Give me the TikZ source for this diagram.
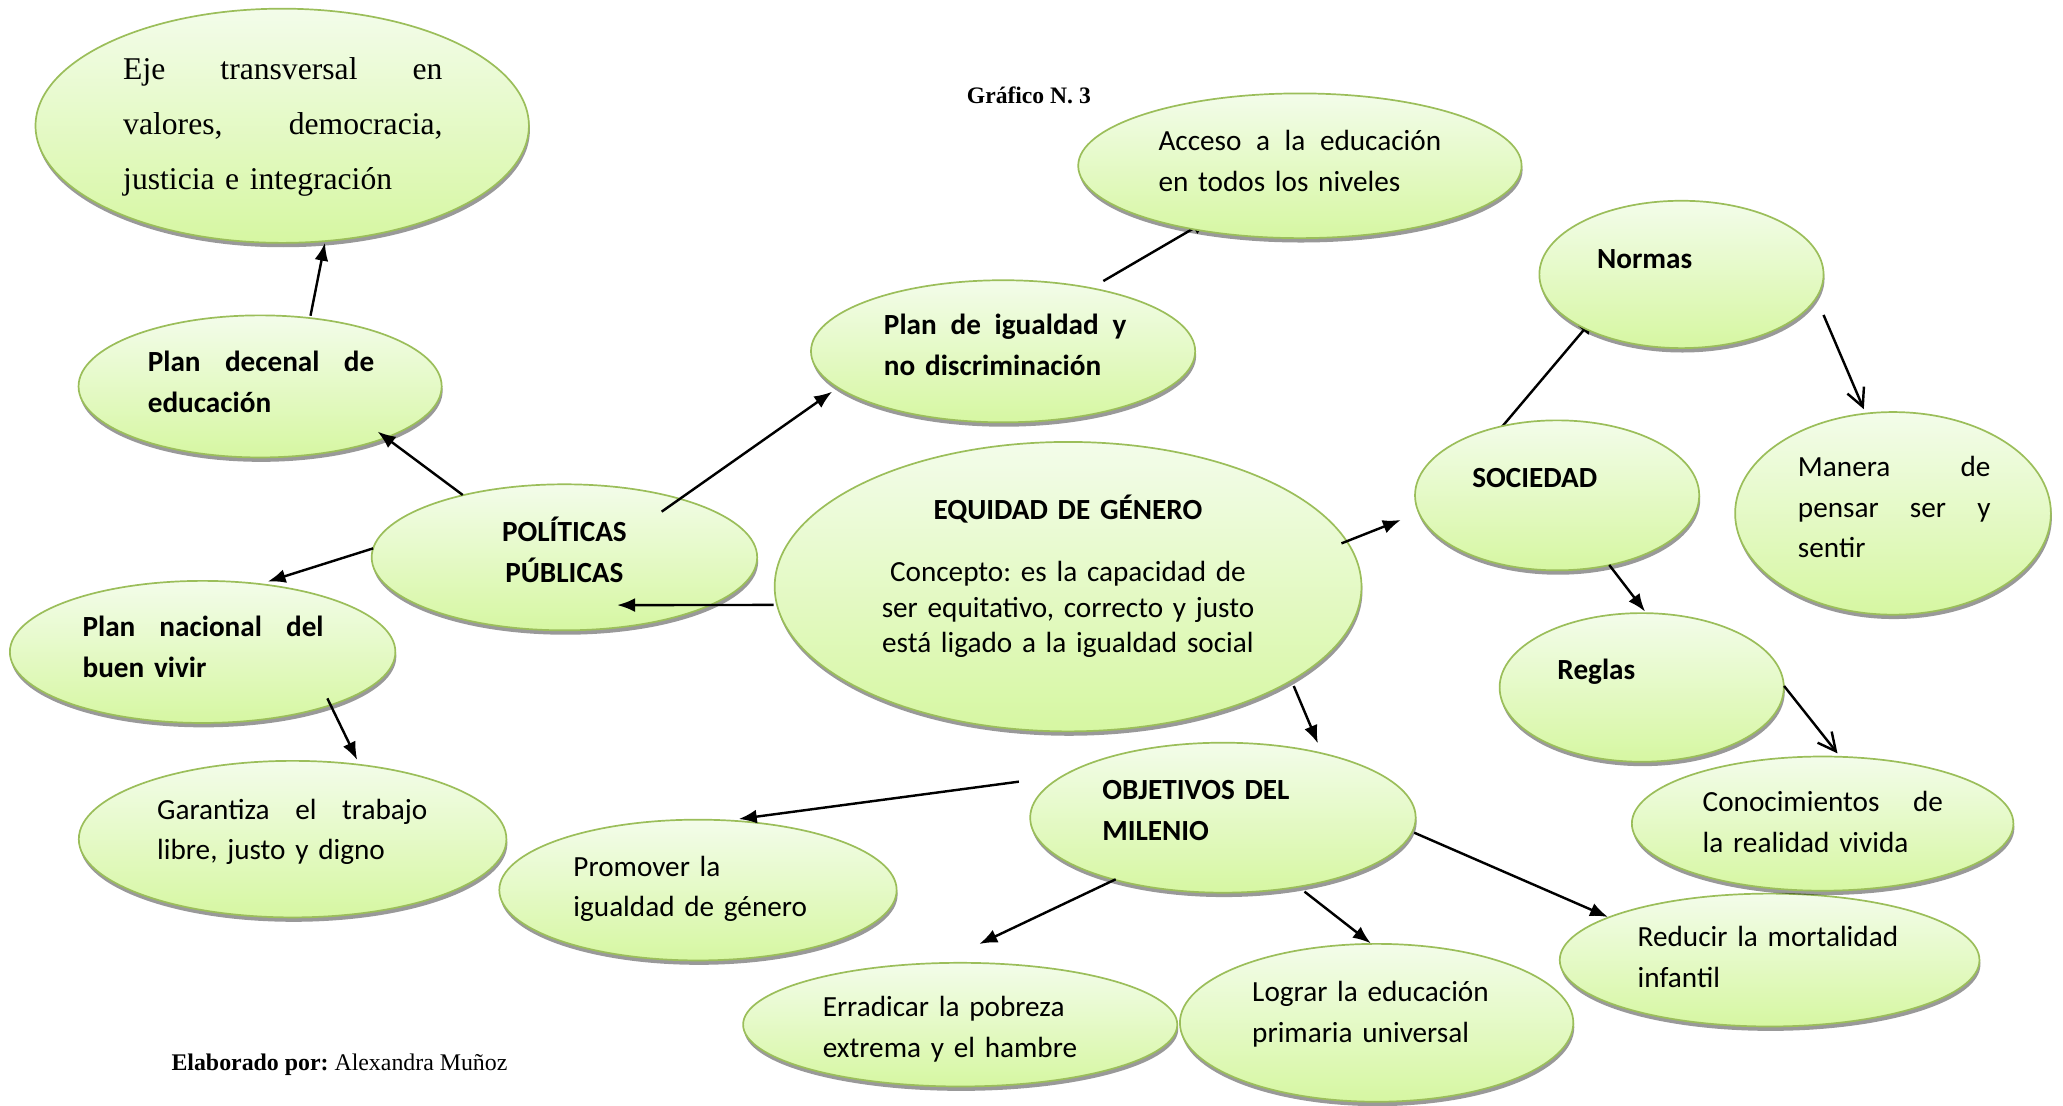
\documentclass[tikz,border=0pt]{standalone}
\usepackage{fontspec}
\setmainfont{Carlito}
\newfontfamily\timesfont{Liberation Serif}
\usetikzlibrary{positioning, shapes.geometric, shadows, arrows.meta, backgrounds}
\frenchspacing

\definecolor{verdeborde}{RGB}{155,190,90}
\definecolor{verdearriba}{RGB}{243,252,234}
\definecolor{verdeabajo}{RGB}{214,247,162}

% Justified line of text: width, words
\newcommand{\jline}[2]{\makebox[#1][s]{#2}}

\begin{document}
\begin{tikzpicture}[
    x=0.019cm, y=-0.019cm, % page units
    >=LaTeX,
    % Styles
    burbuja/.style={ % Ellipse of the map
        ellipse,
        draw=verdeborde,
        line width=0.7pt,
        top color=verdearriba,
        bottom color=verdeabajo,
        drop shadow={shadow xshift=0.4pt, shadow yshift=-1.8pt, fill=black, opacity=0.4},
        inner sep=0pt
    },
    texto/.style={ % Text inside an ellipse
        anchor=base west,
        inner sep=0pt,
        align=left,
        font=\fontsize{12}{16.7}\selectfont
    },
    negrita/.style={ % Bold text
        texto,
        font=\fontsize{12}{16.7}\selectfont\bfseries
    },
    flecha/.style={
        -{Latex[length=2.6mm, width=2mm]},
        line width=1pt
    },
    flechab/.style={ % Open arrow head
        -{Straight Barb[length=2.6mm, width=2.6mm]},
        line width=1pt
    }
]

    \useasboundingbox (0,0) rectangle (1568,840);

    % Ellipses
    \foreach \n/\x/\y/\w/\h in {eje/214.5/95.6/375/178, decenal/197.7/293.7/276/108,
        politicas/429/423.6/293/111, igualdad/762.4/267/292/108,
        acceso/988/126/337/110, equidad/811.8/445.9/446/220,
        nacional/154/495.5/293/108, garantiza/222.4/637.8/325/119,
        promover/530.5/676.5/302/107, objetivos/929.5/621.5/293/114,
        erradicar/729.8/778.8/330/94, lograr/1046.3/777.4/299/120,
        reducir/1345/729.7/319/101, sociedad/1183.5/376.5/216/114,
        normas/1278/208.6/216/112, manera/1438.8/390.2/240/154,
        reglas/1247.8/522.5/216/113, conocimientos/1385.3/626/290/102} {
        \node[burbuja, minimum width=\w*0.019cm, minimum height=\h*0.019cm] (\n) at (\x,\y) {};
    }

    % Texts
    \node[texto, text width=4.61cm, font=\timesfont\fontsize{13}{22.5}\selectfont] (t-eje) at (93.3,60.8)
        {\jline{4.61cm}{Eje\hfill transversal\hfill en}\\
         \jline{4.61cm}{valores,\hfill democracia,}\\ justicia e integración};
    \node[negrita, text width=3.27cm] (t-decenal) at (112,282.5)
        {\jline{3.27cm}{Plan\hfill decenal\hfill de}\\ educación};
    \node[negrita, anchor=base, align=center, text width=3cm] (t-politicas) at (429,411.7) {POLÍTICAS\\ PÚBLICAS};
    \node[negrita, text width=3.5cm] (t-igualdad) at (671.5,254.6)
        {\jline{3.5cm}{Plan\hfill de\hfill igualdad\hfill y}\\ no discriminación};
    \node[texto, text width=4.08cm] (t-acceso) at (880.2,114.5)
        {\jline{4.08cm}{Acceso\hfill a\hfill la\hfill educación}\\ en todos los niveles};
    \node[texto, anchor=base, align=center, text width=6cm, font=\fontsize{12}{14.7}\selectfont] (t-equidad) at (811.7,394.7)
        {\textbf{EQUIDAD DE GÉNERO}\\[0.38cm] Concepto: es la capacidad de\\ ser equitativo, correcto y justo\\ está ligado a la igualdad social};
    \node[negrita, text width=3.48cm] (t-nacional) at (62.4,483.9)
        {\jline{3.48cm}{Plan\hfill nacional\hfill del}\\ buen vivir};
    \node[texto, text width=3.9cm] (t-garantiza) at (119.1,622.7)
        {\jline{3.9cm}{Garantiza\hfill el\hfill trabajo}\\ libre, justo y digno};
    \node[texto, text width=4.2cm] (t-promover) at (435.5,666) {Promover la\\ igualdad de género};
    \node[negrita, text width=4.2cm] (t-objetivos) at (837.4,608) {OBJETIVOS DEL\\ MILENIO};
    \node[texto, text width=4.2cm] (t-erradicar) at (625,772.7) {Erradicar la pobreza\\ extrema y el hambre};
    \node[texto, text width=4.2cm] (t-lograr) at (951.4,761.3) {Lograr la educación\\ primaria universal};
    \node[texto, text width=4.2cm] (t-reducir) at (1244.4,719.5) {Reducir la mortalidad\\ infantil};
    \node[negrita] (t-sociedad) at (1118.7,370.4) {SOCIEDAD};
    \node[negrita] (t-normas) at (1213.5,204) {Normas};
    \node[texto, text width=2.78cm] (t-manera) at (1366.2,362.3)
        {\jline{2.78cm}{Manera\hfill de}\\ \jline{2.78cm}{pensar\hfill ser\hfill y}\\ sentir};
    \node[negrita] (t-reglas) at (1183.4,516.8) {Reglas};
    \node[texto, text width=3.47cm] (t-conocimientos) at (1293.8,616.9)
        {\jline{3.47cm}{Conocimientos\hfill de}\\ la realidad vivida};

    % Title and author
    \node[anchor=base, inner sep=0pt, font=\timesfont\fontsize{9.7}{12}\selectfont\bfseries] (titulo) at (782,78.5) {Gráfico N. 3};
    \node[anchor=base west, inner sep=0pt, font=\timesfont\fontsize{9.8}{12}\selectfont] (autora) at (130,814)
        {\textbf{Elaborado por:} Alexandra Muñoz};

    % Arrows
    \foreach \a/\ax/\ay/\b/\bx/\by in {decenal/38.3/-53.7/eje/32.5/88.9,
        politicas/-77.3/-47.4/decenal/89.3/34.3, politicas/73.9/-34.7/igualdad/-129.9/30.7,
        politicas/-145.4/-6.8/nacional/49.4/-53.4, equidad/-223.8/13.9/politicas/40/36.3,
        equidad/207.8/-32.9/sociedad/-118.8/18.7, equidad/171.5/75.5/objetivos/72.2/-56.5,
        nacional/94.8/35.3/garantiza/49.1/-60.2, objetivos/-155.1/-27.4/promover/31/-54,
        objetivos/-81.5/46.8/erradicar/14.5/-61.3, objetivos/62/56.2/lograr/-4.4/-60.4,
        objetivos/145.4/11.4/reducir/-122.8/-32.7, sociedad/39.6/52.9/reglas/2.6/-57.6} {
        \draw[flecha] ([shift={(\ax,\ay)}]\a.center) -- ([shift={(\bx,\by)}]\b.center);
    }

    % Open arrows
    \draw[flechab] ([shift={(108,30.8)}]normas.center) -- ([shift={(-22.2,-79.2)}]manera.center);
    \draw[flechab] ([shift={(108.2,-1.1)}]reglas.center) -- ([shift={(11.3,-53.4)}]conocimientos.center);

    % Arrows with the head under the ellipse
    \begin{pgfonlayer}{background}
        \draw[flecha] ([shift={(76.2,-53.4)}]igualdad.center) -- ([shift={(-68.7,40.5)}]acceso.center);
        \draw[flecha] ([shift={(-44.1,-49.5)}]sociedad.center) -- ([shift={(-65.7,32.1)}]normas.center);
    \end{pgfonlayer}
\end{tikzpicture}
\end{document}
